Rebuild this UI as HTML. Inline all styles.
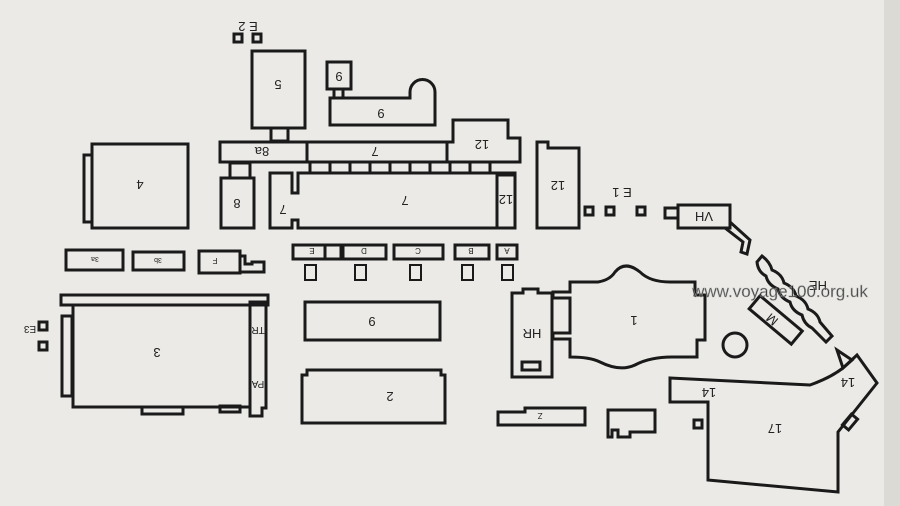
<!DOCTYPE html>
<html><head><meta charset="utf-8"><style>
html,body{margin:0;padding:0;background:#ebeae6;}
svg{display:block}
text{font-family:"Liberation Sans",sans-serif;fill:#222;}
</style></head><body>
<svg width="900" height="506" viewBox="0 0 900 506">
<rect width="900" height="506" fill="#ebeae6"/>
<rect x="884" y="0" width="16" height="506" fill="#dcdad5"/>
<g fill="none" stroke="#1a1a1a" stroke-width="3" stroke-linejoin="miter">
<!-- E2 -->
<rect x="234" y="34" width="8" height="8"/><rect x="253" y="34" width="8" height="8"/>
<!-- 5 -->
<rect x="252" y="51" width="53" height="77"/>
<rect x="271" y="128" width="17" height="13"/>
<!-- small 9 -->
<rect x="327" y="62" width="24" height="27"/>
<rect x="334" y="89" width="9" height="9"/>
<!-- 6 -->
<path d="M330,98 H410 V92 A12,12 0 0 1 435,92 V125 H330 Z"/>
<!-- strip 8a / 7 -->
<rect x="220" y="142" width="87" height="20"/>
<rect x="307" y="142" width="140" height="20"/>
<path d="M447,162 V142 H453 V120 H508 V138 H520 V162 Z"/>
<path d="M310,162 V172 M330,162 V172 M350,162 V172 M370,162 V172 M390,162 V172 M410,162 V172 M430,162 V172 M450,162 V172 M470,162 V172 M490,162 V172"/>
<!-- 8 -->
<rect x="230" y="163" width="20" height="15"/>
<rect x="221" y="178" width="33" height="50"/>
<!-- 7 big -->
<path d="M270,173 H292 V193 H298 V173 H515 V228 H298 V220 H292 V228 H270 Z"/>
<rect x="497" y="175" width="18" height="53"/>
<!-- 4 -->
<rect x="92" y="144" width="96" height="84"/>
<rect x="84" y="155" width="8" height="67"/>
<!-- 12 right -->
<path d="M537,142 V228 H579 V148 H548 V142 Z"/>
<!-- E1 -->
<rect x="585" y="207" width="8" height="8"/><rect x="606" y="207" width="8" height="8"/><rect x="637" y="207" width="8" height="8"/>
<!-- VH -->
<rect x="665" y="208" width="13" height="10"/>
<rect x="678" y="205" width="52" height="23"/>
<path d="M730,222 L750,240 L747,254 L741,252 L743,242 L725,228"/>
<!-- HE wavy -->
<path d="M757,262 L762,256 Q770,262 772,270 Q782,274 784,283 Q794,287 796,296 Q806,300 808,309 Q818,313 820,322 L832,336 L826,342 L812,328 Q804,324 802,315 Q792,311 790,302 Q780,298 778,289 Q768,285 766,276 Q758,272 757,262 Z"/>
<!-- M -->
<rect x="748" y="311" width="55" height="17" transform="rotate(40 775 320)"/>
<circle cx="735" cy="345" r="12"/>
<!-- 1 -->
<path d="M570,282 H598 Q610,280 615,272 Q625,260 640,272 Q650,282 670,282 H695 V295 H705 V340 H697 V357 H672 Q650,357 635,365 Q620,372 600,362 Q590,357 570,357 V339 H553 V333 H570 V298 H553 V292 H570 Z"/>
<!-- HR -->
<path d="M512,293 H523 V289 H538 V293 H552 V377 H512 Z"/>
<rect x="522" y="362" width="18" height="8"/>
<!-- row small boxes -->
<rect x="293" y="245" width="48" height="14"/><path d="M325,245 V259"/>
<rect x="343" y="245" width="43" height="14"/>
<rect x="394" y="245" width="49" height="14"/>
<rect x="455" y="245" width="34" height="14"/>
<rect x="497" y="245" width="20" height="14"/>
<g stroke-width="2">
<rect x="305" y="265" width="11" height="15"/><rect x="355" y="265" width="11" height="15"/><rect x="410" y="265" width="11" height="15"/><rect x="462" y="265" width="11" height="15"/><rect x="502" y="265" width="11" height="15"/>
</g>
<!-- 3a 3b F -->
<rect x="66" y="250" width="57" height="20"/>
<rect x="133" y="252" width="51" height="18"/>
<rect x="199" y="251" width="41" height="22"/>
<path d="M240,256 H245 V264 H252 V262 H264 V272 H240"/>
<!-- 3 -->
<rect x="61" y="295" width="207" height="10"/>
<rect x="73" y="305" width="177" height="102"/>
<path d="M250,302 H266 V408 H262 V416 H250 Z"/>
<rect x="62" y="316" width="10" height="80"/>
<rect x="142" y="407" width="41" height="7"/>
<rect x="220" y="406" width="20" height="6"/>
<rect x="39" y="322" width="8" height="8"/><rect x="39" y="342" width="8" height="8"/>
<!-- 9, 2 -->
<rect x="305" y="302" width="135" height="38"/>
<path d="M302,375 H307 V370 H441 V375 H445 V423 H302 Z"/>
<!-- Z strip -->
<path d="M498,412 H525 V408 H585 V425 H498 Z"/>
<!-- small shape -->
<path d="M608,410 H655 V432 H630 V437 H618 V430 H612 V437 H608 Z"/>
<!-- 17 -->
<path d="M670,378 L810,385 Q830,378 843,368 L857,355 L877,383 L838,432 V492 L708,480 V402 H670 Z"/>
<path d="M837,350 L852,360 L843,368 Z"/>
<rect x="694" y="420" width="8" height="8"/>
<rect x="843" y="418" width="14" height="8" transform="rotate(-50 850 422)"/>
</g>
<g font-size="13" text-anchor="middle">
<text transform="translate(278,80) rotate(180)">5</text>
<text transform="translate(339,72) rotate(180)">9</text>
<text transform="translate(381,109) rotate(180)">9</text>
<text transform="translate(262,147) rotate(180)">8a</text>
<text transform="translate(375,147) rotate(180)">7</text>
<text transform="translate(482,140) rotate(180)">12</text>
<text transform="translate(237,199) rotate(180)">8</text>
<text transform="translate(283,205) rotate(180)">7</text>
<text transform="translate(405,196) rotate(180)">7</text>
<text transform="translate(506,195) rotate(180)">12</text>
<text transform="translate(140,180) rotate(180)">4</text>
<text transform="translate(558,181) rotate(180)">12</text>
<text transform="translate(248,22) rotate(180)">E 2</text>
<text transform="translate(622,188) rotate(180)">E 1</text>
<text transform="translate(704,212) rotate(180)">VH</text>
<text transform="translate(818,281) rotate(180)">HE</text>
<text transform="translate(775,316) rotate(220)">M</text>
<text transform="translate(634,316) rotate(180)">1</text>
<text transform="translate(532,329) rotate(180)">HR</text>
<text transform="translate(157,348) rotate(180)">3</text>
<text transform="translate(372,317) rotate(180)">9</text>
<text transform="translate(390,392) rotate(180)">2</text>
<text transform="translate(709,388) rotate(180)">14</text>
<text transform="translate(848,378) rotate(180)">14</text>
<text transform="translate(775,424) rotate(180)">17</text>
</g>
<g font-size="10" text-anchor="middle">
<text transform="translate(258,327) rotate(180)">TR</text>
<text transform="translate(258,381) rotate(180)">PA</text>
<text transform="translate(30,326) rotate(180)">E3</text>
<text transform="translate(95,257) rotate(180)" font-size="7">3a</text>
<text transform="translate(158,258) rotate(180)" font-size="7">3b</text>
<text transform="translate(215,258) rotate(180)" font-size="8">F</text>
<text transform="translate(312,248) rotate(180)" font-size="8">E</text>
<text transform="translate(364,248) rotate(180)" font-size="8">D</text>
<text transform="translate(418,248) rotate(180)" font-size="8">C</text>
<text transform="translate(471,248) rotate(180)" font-size="8">B</text>
<text transform="translate(507,248) rotate(180)" font-size="8">A</text>
<text transform="translate(540,413) rotate(180)" font-size="8">Z</text>
</g>
<text x="780" y="297" font-size="17" text-anchor="middle" fill="#ffffff" stroke="#aaa" stroke-width="0.5" opacity="0.85">www.voyage100.org.uk</text>
</svg>
</body></html>
